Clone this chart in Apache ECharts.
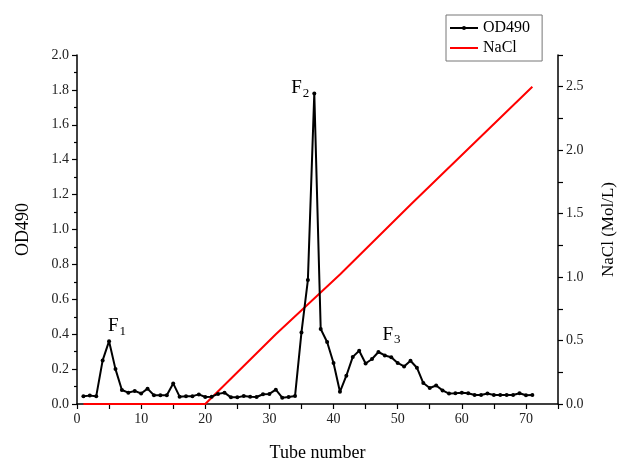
<!DOCTYPE html>
<html>
<head>
<meta charset="utf-8">
<script src="https://cdn.jsdelivr.net/npm/echarts@6/dist/echarts.min.js"></script>
<style>html,body{margin:0;padding:0;background:#fff;}#c{width:617px;height:459px;}</style>
</head>
<body>
<div id="c"></div>
<script>
// ---- data ----
const tubes = [1,2,3,4,5,6,7,8,9,10,11,12,13,14,15,16,17,18,19,20,21,22,23,24,25,26,27,28,29,30,31,32,33,34,35,36,37,38,39,40,41,42,43,44,45,46,47,48,49,50,51,52,53,54,55,56,57,58,59,60,61,62,63,64,65,66,67,68,69,70,71];
const od490 = [0.045,0.048,0.045,0.25,0.36,0.2,0.08,0.065,0.075,0.06,0.088,0.05,0.05,0.05,0.118,0.042,0.045,0.045,0.055,0.04,0.042,0.058,0.065,0.038,0.038,0.046,0.042,0.04,0.056,0.058,0.082,0.036,0.04,0.046,0.41,0.71,1.78,0.43,0.355,0.235,0.07,0.162,0.27,0.305,0.232,0.258,0.298,0.278,0.268,0.235,0.215,0.248,0.208,0.12,0.092,0.106,0.078,0.06,0.062,0.065,0.062,0.052,0.052,0.06,0.052,0.052,0.052,0.052,0.062,0.05,0.052];
const naclTubes = [1,20,31,41,52,71];
const naclValues = [0,0,0.55,1.02,1.57,2.5];
const peakTubes = [5,37,47];
const peakNames = ['1','2','3'];
const xTickLabels = [0,10,20,30,40,50,60,70];

const serif = 'Liberation Serif, Times New Roman, serif';
const odData = tubes.map((t,i)=>[t, od490[i]]);
const naclData = naclTubes.map((t,i)=>[t, naclValues[i]]);
const peakOffsets = [[8,-15],[-14,-5],[13,-17]];
const peakData = peakTubes.map((t,i)=>({
  coord:[t, od490[tubes.indexOf(t)]],
  value: peakNames[i],
  label:{offset: peakOffsets[i]}
}));

const chart = echarts.init(document.getElementById('c'), null, {renderer:'canvas'});
chart.setOption({
  animation:false,
  backgroundColor:'#fff',
  textStyle:{fontFamily:serif, color:'#000'},
  grid:{left:77, right:59, top:55, bottom:55, containLabel:false, outerBoundsMode:'none'},
  legend:{
    orient:'vertical', left:446, top:15,
    padding:[4,12,4,3], itemWidth:28, itemHeight:5, itemGap:2,
    borderColor:'#777', borderWidth:1, backgroundColor:'#fff',
    textStyle:{fontFamily:serif, fontSize:16, color:'#000', lineHeight:18},
    data:[{name:'OD490'},{name:'NaCl', itemStyle:{color:'rgba(0,0,0,0)', borderWidth:0}}]
  },
  xAxis:{
    type:'value', min:0, max:75, interval:5,
    name:'Tube number', nameLocation:'middle', nameGap:40,
    nameTextStyle:{fontFamily:serif, fontSize:18, color:'#000'},
    axisLine:{lineStyle:{color:'#000', width:1.5}},
    axisTick:{length:5, lineStyle:{color:'#000', width:1.2}},
    axisLabel:{fontFamily:serif, fontSize:14, color:'#222', margin:8,
      formatter:v=> xTickLabels.indexOf(v) >= 0 ? String(v) : ''},
    splitLine:{show:false}
  },
  yAxis:[{
    type:'value', min:0, max:2, interval:0.2, position:'left',
    name:'OD490', nameLocation:'middle', nameGap:45, nameRotate:90,
    nameTextStyle:{fontFamily:serif, fontSize:18, color:'#000'},
    axisLine:{show:true, lineStyle:{color:'#000', width:1.5}},
    axisTick:{show:true, length:5, lineStyle:{color:'#000', width:1.2}},
    minorTick:{show:true, splitNumber:2, length:3, lineStyle:{color:'#000', width:1.2}},
    axisLabel:{fontFamily:serif, fontSize:14, color:'#222', margin:8, formatter:v=>v.toFixed(1)},
    splitLine:{show:false}
  },{
    type:'value', min:0, max:2.75, interval:0.25, position:'right',
    name:'NaCl (Mol/L)', nameLocation:'middle', nameGap:42, nameRotate:90,
    nameTextStyle:{fontFamily:serif, fontSize:17, color:'#000'},
    axisLine:{show:true, lineStyle:{color:'#000', width:1.5}},
    axisTick:{show:true, length:5, lineStyle:{color:'#000', width:1.2}},
    axisLabel:{fontFamily:serif, fontSize:14, color:'#222', margin:8,
      formatter:v=> (Math.abs(v*2 - Math.round(v*2))<1e-6) ? v.toFixed(1) : ''},
    splitLine:{show:false}
  }],
  series:[{
    name:'OD490', type:'line', yAxisIndex:0, data:odData,
    symbol:'circle', symbolSize:4, showSymbol:true,
    lineStyle:{color:'#000', width:2}, itemStyle:{color:'#000'},
    markPoint:{
      symbol:'circle', symbolSize:0,
      label:{show:true, position:'inside',
        formatter:p=>'{f|F}{s|'+p.value+'}',
        rich:{
          f:{fontFamily:serif, fontSize:19, color:'#000', lineHeight:22},
          s:{fontFamily:serif, fontSize:13, color:'#000', lineHeight:22, padding:[10,0,0,1]}
        }},
      data:peakData
    },
    z:3
  },{
    name:'NaCl', type:'line', yAxisIndex:1, data:naclData,
    symbol:'none', showSymbol:false,
    lineStyle:{color:'#ff0000', width:2}, itemStyle:{color:'#ff0000'},
    z:2
  }]
});
</script>
</body>
</html>
